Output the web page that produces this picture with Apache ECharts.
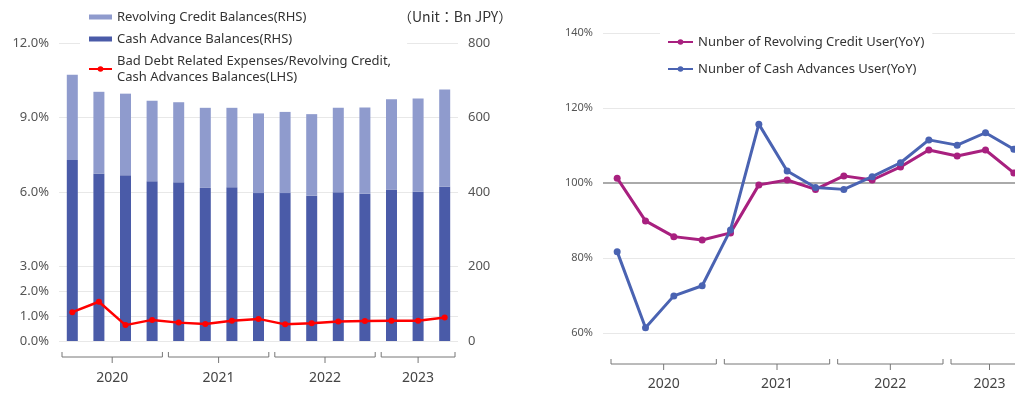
<!DOCTYPE html>
<html>
<head>
<meta charset="utf-8">
<script src="https://cdn.jsdelivr.net/npm/echarts@6/dist/echarts.min.js"></script>
<style>
  html, body { margin: 0; padding: 0; background: #fff; }
  #chart { width: 1015px; height: 396px; }
</style>
</head>
<body>
<div id="chart"></div>
<script>
// quarters 2020Q1 .. 2023Q3
const quarters = ['2020Q1', '2020Q2', '2020Q3', '2020Q4', '2021Q1', '2021Q2', '2021Q3', '2021Q4',
  '2022Q1', '2022Q2', '2022Q3', '2022Q4', '2023Q1', '2023Q2', '2023Q3']
// year groups: [first quarter index, last quarter index, label]
const yearGroups = [[0, 3, '2020'], [4, 7, '2021'], [8, 11, '2022'], [12, 14, '2023']]

// left chart (Bn JPY / %)
const cashAdvance = [486, 450, 445, 429, 426, 411, 413, 397, 397, 390, 399, 395, 407, 401, 414]
const revolving = [229, 219, 219, 216, 215, 215, 213, 214, 218, 219, 227, 232, 242, 250, 261]
const badDebtRatio = [1.16, 1.58, 0.64, 0.85, 0.74, 0.68, 0.82, 0.89, 0.67, 0.71, 0.79, 0.81, 0.82, 0.82, 0.95]
const ratioTicks = [0, 1, 2, 3, 6, 9, 12]
const balanceTicks = [0, 200, 400, 600, 800]

// right chart (YoY %)
const revolvingUsers = [101.3, 89.9, 85.7, 84.8, 86.7, 99.5, 100.8, 98.3, 101.9, 100.8, 104.3, 108.8, 107.2, 108.8, 102.7]
const cashUsers = [81.7, 61.4, 69.9, 72.6, 87.5, 115.7, 103.2, 98.8, 98.3, 101.7, 105.4, 111.5, 110.1, 113.4, 109.0]
const yoyTicks = [60, 80, 100, 120, 140]
const yoyBase = 100

const NAME_REV = 'Revolving Credit Balances(RHS)'
const NAME_CASH = 'Cash Advance Balances(RHS)'
const NAME_BAD = 'Bad Debt Related Expenses/Revolving Credit,\nCash Advances Balances(LHS)'
const NAME_REV_USER = 'Nunber of Revolving Credit User(YoY)'
const NAME_CASH_USER = 'Nunber of Cash Advances User(YoY)'

const FONT = '"Noto Sans", sans-serif'
const LABEL_COLOR = '#555'
const GRID_COLOR = '#e8e8e8'
// 凡例の棒アイコン（細い長方形）
const BAR_ICON = 'path://M0,0 H23 V5 H0 Z'

// 年の括弧（ブラケット）を描く
function makeBracketRenderer(opt) {
  return function (params, api) {
    const cs = params.coordSys
    const band = api.size([1, 0])[0]
    const s = api.value(0)
    const e = api.value(1)
    const x0 = api.coord([s, 0])[0] - band / 2 + opt.padStart
    const x1 = api.coord([e, 0])[0] + band / 2 - opt.padEnd
    const xm = (x0 + x1) / 2
    const base = cs.y + cs.height
    const y = base + opt.lineOffset
    const stroke = { stroke: '#777', lineWidth: 1, fill: null }
    return {
      type: 'group',
      children: [
        { type: 'polyline', shape: { points: [[x0, y - 5], [x0, y], [x1, y], [x1, y - 5]] }, style: stroke },
        { type: 'line', shape: { x1: xm, y1: y, x2: xm, y2: y + 6 }, style: stroke },
        {
          type: 'text',
          style: {
            text: yearGroups[params.dataIndex][2],
            x: xm,
            y: base + opt.labelOffset,
            align: 'center',
            verticalAlign: 'middle',
            fontSize: 14,
            fontFamily: FONT,
            fill: '#444',
          },
        },
      ],
    }
  }
}

const chart = echarts.init(document.getElementById('chart'))
chart.setOption({
  animation: false,
  textStyle: { fontFamily: FONT },
  title: {
    text: '（Unit：Bn JPY）',
    left: 393,
    top: 5,
    textStyle: { fontSize: 14, fontWeight: 'normal', color: '#333', fontFamily: '"Noto Sans CJK JP", sans-serif' },
  },
  legend: [
    {
      data: [
        { name: NAME_REV, icon: BAR_ICON },
        { name: NAME_CASH, icon: BAR_ICON },
        { name: NAME_BAD },
      ],
      orient: 'vertical',
      left: 80,
      top: 5,
      padding: [4, 16, 4, 8],
      itemGap: 6,
      itemWidth: 23,
      itemHeight: 7,
      backgroundColor: '#fff',
      textStyle: { fontSize: 13, lineHeight: 16, color: '#333', fontFamily: FONT },
    },
    {
      data: [NAME_REV_USER, NAME_CASH_USER],
      orient: 'vertical',
      left: 660,
      top: 30,
      padding: [4, 8, 4, 7],
      itemGap: 11,
      itemWidth: 25,
      itemHeight: 7,
      backgroundColor: '#fff',
      textStyle: { fontSize: 13, lineHeight: 16, color: '#333', fontFamily: FONT },
    },
  ],
  grid: [
    { left: 59, width: 399, top: 43, bottom: 55, outerBoundsMode: 'none' },
    { left: 603, width: 425, top: 33, bottom: 63, outerBoundsMode: 'none' },
  ],
  xAxis: [
    {
      gridIndex: 0,
      type: 'category',
      data: quarters,
      axisLine: { show: false },
      axisTick: { show: false },
      axisLabel: { show: false },
    },
    {
      gridIndex: 1,
      type: 'category',
      data: quarters,
      axisLine: { show: false },
      axisTick: { show: false },
      axisLabel: { show: false },
    },
  ],
  yAxis: [
    {
      gridIndex: 0,
      type: 'value',
      min: 0,
      max: 12,
      interval: 1,
      axisLine: { show: false },
      axisTick: { show: false, customValues: ratioTicks },
      axisLabel: {
        customValues: ratioTicks,
        formatter: (v) => v.toFixed(1) + '%',
        fontSize: 13,
        color: LABEL_COLOR,
        margin: 10,
      },
      splitLine: { lineStyle: { color: GRID_COLOR } },
    },
    {
      gridIndex: 0,
      type: 'value',
      position: 'right',
      min: balanceTicks[0],
      max: balanceTicks[balanceTicks.length - 1],
      interval: 200,
      axisLine: { show: false },
      axisTick: { show: false },
      axisLabel: { fontSize: 13, color: LABEL_COLOR, margin: 10 },
      splitLine: { show: false },
    },
    {
      gridIndex: 1,
      type: 'value',
      min: yoyTicks[0],
      max: yoyTicks[yoyTicks.length - 1],
      interval: 20,
      axisLine: { show: false },
      axisTick: { show: false },
      axisLabel: { formatter: '{value}%', fontSize: 11, color: LABEL_COLOR, margin: 10 },
      splitLine: { lineStyle: { color: GRID_COLOR } },
    },
  ],
  series: [
    {
      name: NAME_CASH,
      type: 'bar',
      stack: 'balance',
      xAxisIndex: 0,
      yAxisIndex: 1,
      barWidth: 11,
      itemStyle: { color: '#4a5ba8' },
      data: cashAdvance,
    },
    {
      name: NAME_REV,
      type: 'bar',
      stack: 'balance',
      xAxisIndex: 0,
      yAxisIndex: 1,
      barWidth: 11,
      itemStyle: { color: '#8f9bcd' },
      data: revolving,
    },
    {
      name: NAME_BAD,
      type: 'line',
      xAxisIndex: 0,
      yAxisIndex: 0,
      symbol: 'circle',
      symbolSize: 6,
      itemStyle: { color: '#ff0000' },
      lineStyle: { color: '#ff0000', width: 2.5 },
      data: badDebtRatio,
    },
    {
      name: NAME_REV_USER,
      type: 'line',
      xAxisIndex: 1,
      yAxisIndex: 2,
      symbol: 'circle',
      symbolSize: 7,
      itemStyle: { color: '#a8207f' },
      lineStyle: { color: '#a8207f', width: 3 },
      markLine: {
        silent: true,
        symbol: 'none',
        label: { show: false },
        lineStyle: { color: '#aaa', width: 2, type: 'solid' },
        data: [{ yAxis: yoyBase }],
        z: 1,
      },
      z: 3,
      data: revolvingUsers,
    },
    {
      name: NAME_CASH_USER,
      type: 'line',
      xAxisIndex: 1,
      yAxisIndex: 2,
      symbol: 'circle',
      symbolSize: 7,
      itemStyle: { color: '#4a63b2' },
      lineStyle: { color: '#4a63b2', width: 3 },
      z: 4,
      data: cashUsers,
    },
    {
      type: 'custom',
      xAxisIndex: 0,
      yAxisIndex: 0,
      silent: true,
      clip: false,
      renderItem: makeBracketRenderer({ padStart: 3, padEnd: 3, lineOffset: 16, labelOffset: 37 }),
      data: yearGroups.map((g) => [g[0], g[1]]),
    },
    {
      type: 'custom',
      xAxisIndex: 1,
      yAxisIndex: 2,
      silent: true,
      clip: false,
      renderItem: makeBracketRenderer({ padStart: 8, padEnd: 0, lineOffset: 31, labelOffset: 51 }),
      data: yearGroups.map((g) => [g[0], g[1]]),
    },
  ],
})
window.addEventListener('resize', () => chart.resize())
</script>
</body>
</html>
